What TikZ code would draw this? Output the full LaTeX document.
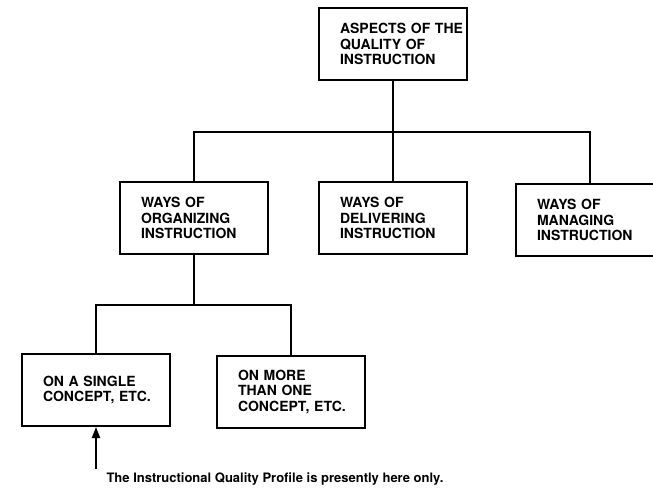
\documentclass[tikz,border=0pt]{standalone}
\usepackage{fontspec}
\setmainfont{TeX Gyre Heros}
\usepackage{tikz}
\usetikzlibrary{positioning, arrows.meta}
\tikzset{box/.style={draw, line width=2pt, minimum width=148pt, minimum height=72pt,
                     text width=106pt, inner xsep=21pt, align=left,
                     font=\fontsize{14}{15.5}\selectfont\bfseries},
         link/.style={line width=2pt},
         pointer/.style={line width=2pt, -{Triangle[length=11pt, width=8pt]}},
         }

\begin{document}
\begin{tikzpicture}[x=1pt, y=1pt]
    \useasboundingbox (0,0) rectangle (653,-496);
    \node[box] (aspects) at (393,-44) {ASPECTS~OF~THE\\QUALITY~OF\\INSTRUCTION};
    \node[box, below=100pt of aspects] (delivering) {WAYS~OF\\DELIVERING\\INSTRUCTION};
    \node[box, left=49pt of delivering] (organizing) {WAYS~OF\\ORGANIZING\\INSTRUCTION};
    \node[box, right=47pt of delivering, yshift=-2pt] (managing) {WAYS~OF\\MANAGING\\INSTRUCTION};
    \node[box, below=98pt of organizing, xshift=-98pt] (single) {ON~A~SINGLE\\CONCEPT,~ETC.};
    \node[box, below=100pt of organizing, xshift=97pt] (more) {ON~MORE\\THAN~ONE\\CONCEPT,~ETC.};
    \node[anchor=base west, font=\fontsize{13}{15}\selectfont\bfseries] (note) at (103,-482)
        {The Instructional Quality Profile is presently here only.};
    \coordinate[below=42pt of single.south] (tail);

    \draw[link] (aspects) -- (delivering);
    \draw[link] (organizing.north) -- ++(0,49) -| (managing.north);
    \draw[link] (single.north) -- ++(0,48) coordinate (lowbar) -| (more.north);
    \draw[link] (organizing.south) -- (organizing.south |- lowbar);
    \draw[pointer] (tail) -- (single.south);
\end{tikzpicture}
\end{document}
